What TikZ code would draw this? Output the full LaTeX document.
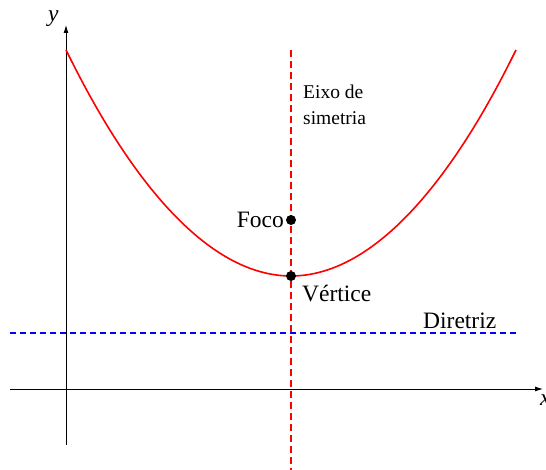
\documentclass[tikz,border=0pt]{standalone}
\usepackage{fontspec}
\setmainfont{Liberation Serif}
\usetikzlibrary{arrows.meta}
\begin{document}
\begin{tikzpicture}[x=1pt,y=1pt,
  axisline/.style={line width=0.9pt,-{Latex[length=8pt,width=5pt]}},
  bigtext/.style={inner sep=0pt,font=\fontsize{23.5}{28}\selectfont},
  smalltext/.style={inner sep=0pt,font=\fontsize{19.5}{26}\selectfont},
  dotmark/.style={circle,fill=black,inner sep=0pt,minimum size=10pt}]
\useasboundingbox (0,0) rectangle (546,470);
% axes
\coordinate (xs) at (10,81);
\coordinate (xe) at (543,81);
\coordinate (ys) at (66,25);
\coordinate (ye) at (66,445);
\draw[axisline] (xs) -- (xe);
\draw[axisline] (ys) -- (ye);
\node[bigtext,anchor=base west,font=\fontsize{23.5}{28}\selectfont\itshape] (ylab) at (48,448) {y};
\node[bigtext,anchor=base west,font=\fontsize{23.5}{28}\selectfont\itshape] (xlab) at (540,64) {x};
% directrix
\coordinate (ds) at (10,137);
\coordinate (de) at (516,137);
\draw[blue,line width=1.3pt,dash pattern=on 6pt off 4pt] (ds) -- (de);
\node[bigtext,anchor=base west] (dir) at (423,141) {Diretriz};
% symmetry axis
\coordinate (as) at (291,420);
\coordinate (ae) at (291,0);
\draw[red,line width=1.3pt,dash pattern=on 7pt off 4pt] (as) -- (ae);
\node[smalltext,anchor=base west] (eixo1) at (303,371) {Eixo de};
\node[smalltext,anchor=base west] (eixo2) at (303,345) {simetria};
% parabola
\coordinate (pl) at (66,420);
\coordinate (pr) at (516,420);
\draw[red,line width=1.6pt] (pl) parabola bend (291,194) (pr);
% points
\node[dotmark] (foco) at (291,250) {};
\node[dotmark] (vert) at (291,194) {};
\node[bigtext,anchor=base east] at (284,242) {Foco};
\node[bigtext,anchor=base west] at (302,168) {Vértice};
\end{tikzpicture}
\end{document}
